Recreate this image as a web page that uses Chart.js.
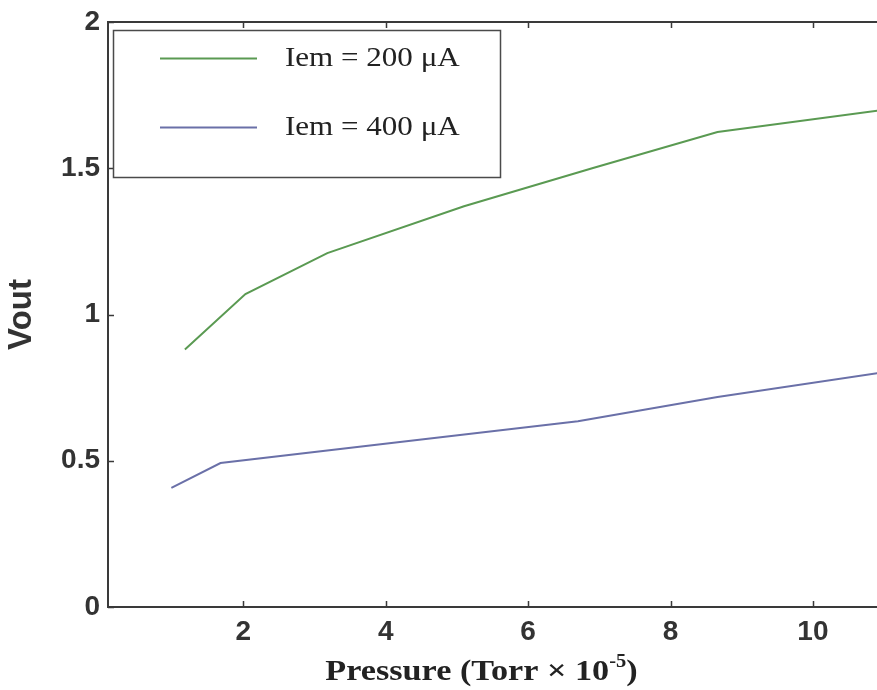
<!DOCTYPE html>
<html>
<head>
<meta charset="utf-8">
<script src="https://cdn.jsdelivr.net/npm/chart.js@4.4.1/dist/chart.umd.min.js"></script>
<style>
  html, body { margin: 0; padding: 0; background: #ffffff; overflow: hidden; }
  #wrap { width: 877px; height: 690px; }
</style>
</head>
<body>
<div id="wrap"><canvas id="c" width="877" height="690"></canvas></div>
<script>
// Output voltage versus pressure for two emission currents
const pressure200 = [1.18, 2.03, 3.18, 5.1, 6.9, 8.66, 11.0];
const vout200     = [0.88, 1.07, 1.21, 1.37, 1.50, 1.624, 1.70];
const pressure400 = [0.99, 1.68, 4.2, 6.7, 8.66, 11.0];
const vout400     = [0.407, 0.492, 0.564, 0.635, 0.718, 0.803];

const seriesLabels = ['Iem = 200 μA', 'Iem = 400 μA'];
const xTicks = [2, 4, 6, 8, 10];
const yTicks = [0, 0.5, 1, 1.5, 2];

const axisColor = '#3a3a3a';
const green = '#5a9a52';
const blue = '#6a70a8';

function toPoints(xs, ys) {
  return xs.map((x, i) => ({ x: x, y: ys[i] }));
}

// Serif text is drawn slightly widened to match the figure's typesetting
function wideText(ctx, text, x, y, sx) {
  ctx.save();
  ctx.translate(x, y);
  ctx.scale(sx, 1);
  ctx.fillText(text, 0, 0);
  ctx.restore();
}

// Frame, inward tick marks, boxed legend and the pressure axis title
const framePlugin = {
  id: 'frame',
  afterDraw(chart) {
    const ctx = chart.ctx;
    const a = chart.chartArea;
    const xs = chart.scales.x, ys = chart.scales.y;
    ctx.save();
    ctx.strokeStyle = axisColor;
    ctx.lineWidth = 2;
    ctx.beginPath();
    ctx.moveTo(a.right + 2, a.top);
    ctx.lineTo(a.left, a.top);
    ctx.lineTo(a.left, a.bottom);
    ctx.lineTo(a.right + 2, a.bottom);
    ctx.stroke();

    ctx.lineWidth = 1.5;
    ctx.beginPath();
    xTicks.forEach(v => {
      const px = Math.round(xs.getPixelForValue(v)) + 0.5;
      ctx.moveTo(px, a.bottom);
      ctx.lineTo(px, a.bottom - 6);
      ctx.moveTo(px, a.top);
      ctx.lineTo(px, a.top + 6);
    });
    yTicks.forEach(v => {
      const py = Math.round(ys.getPixelForValue(v)) + 0.5;
      ctx.moveTo(a.left, py);
      ctx.lineTo(a.left + 6, py);
    });
    ctx.stroke();

    // legend box
    const lx = a.left + 5, ly = a.top + 8, lw = 387, lh = 147;
    ctx.fillStyle = '#ffffff';
    ctx.fillRect(lx, ly, lw, lh);
    ctx.strokeStyle = '#4a4a4a';
    ctx.lineWidth = 1.5;
    ctx.strokeRect(lx + 0.5, ly + 0.5, lw, lh);
    const rows = [ly + 28, ly + 97];
    chart.data.datasets.forEach((ds, i) => {
      const y = rows[i];
      ctx.strokeStyle = ds.borderColor;
      ctx.lineWidth = 2;
      ctx.beginPath();
      ctx.moveTo(lx + 47, y + 0.5);
      ctx.lineTo(lx + 144, y + 0.5);
      ctx.stroke();
      ctx.fillStyle = '#222222';
      ctx.font = '27px "Liberation Serif", "Times New Roman", serif';
      ctx.textAlign = 'left';
      ctx.textBaseline = 'middle';
      wideText(ctx, ds.label, lx + 172, y + 1, 1.15);
    });

    // x axis title with superscript exponent
    const sx = 1.14;
    const main = 'Pressure (Torr × 10';
    const sup = '-5';
    const tail = ')';
    const fMain = 'bold 30px "Liberation Serif", "Times New Roman", serif';
    const fSup = 'bold 18px "Liberation Serif", "Times New Roman", serif';
    ctx.font = fMain;
    const wMain = ctx.measureText(main).width * sx;
    const wTail = ctx.measureText(tail).width * sx;
    ctx.font = fSup;
    const wSup = ctx.measureText(sup).width * sx;
    const total = wMain + wSup + wTail;
    const cx = (a.left + a.right) / 2 - 11;
    const base = 680;
    let x0 = cx - total / 2;
    ctx.fillStyle = '#222222';
    ctx.textAlign = 'left';
    ctx.textBaseline = 'alphabetic';
    ctx.font = fMain;
    wideText(ctx, main, x0, base, sx);
    x0 += wMain;
    ctx.font = fSup;
    wideText(ctx, sup, x0, base - 13, sx);
    x0 += wSup;
    ctx.font = fMain;
    wideText(ctx, tail, x0, base, sx);
    ctx.restore();
  }
};

const tickFont = { family: '"Liberation Sans", Arial, sans-serif', size: 28, weight: 'bold' };

new Chart(document.getElementById('c'), {
  type: 'line',
  data: {
    datasets: [
      {
        label: seriesLabels[0],
        data: toPoints(pressure200, vout200),
        borderColor: green,
        borderWidth: 2,
        pointRadius: 0,
        fill: false,
        tension: 0
      },
      {
        label: seriesLabels[1],
        data: toPoints(pressure400, vout400),
        borderColor: blue,
        borderWidth: 2,
        pointRadius: 0,
        fill: false,
        tension: 0
      }
    ]
  },
  options: {
    responsive: false,
    animation: false,
    devicePixelRatio: 1,
    layout: { autoPadding: false, padding: { top: 22, right: 0, left: 0, bottom: 0 } },
    plugins: {
      legend: { display: false },
      tooltip: { enabled: false }
    },
    scales: {
      x: {
        type: 'linear',
        min: 0.1,
        max: 10.9,
        afterBuildTicks(scale) { scale.ticks = xTicks.map(v => ({ value: v })); },
        afterFit(scale) {
          scale.height = 83;
          scale.paddingLeft = 0;
          scale.paddingRight = 0;
        },
        grid: { display: false, drawTicks: false },
        border: { display: false },
        ticks: {
          font: tickFont,
          color: '#333333',
          padding: 8,
          maxRotation: 0,
          callback: v => String(v)
        }
      },
      y: {
        type: 'linear',
        min: 0,
        max: 2,
        afterBuildTicks(scale) { scale.ticks = yTicks.map(v => ({ value: v })); },
        afterFit(scale) {
          scale.width = 108;
          scale.paddingTop = 0;
          scale.paddingBottom = 0;
        },
        grid: { display: false, drawTicks: false },
        border: { display: false },
        ticks: {
          font: tickFont,
          color: '#333333',
          padding: 8,
          callback: v => String(v)
        },
        title: {
          display: true,
          text: 'Vout',
          color: '#333333',
          font: { family: '"Liberation Sans", Arial, sans-serif', size: 33, weight: 'bold' },
          padding: { top: 2, bottom: 0 }
        }
      }
    }
  },
  plugins: [framePlugin]
});
</script>
</body>
</html>
